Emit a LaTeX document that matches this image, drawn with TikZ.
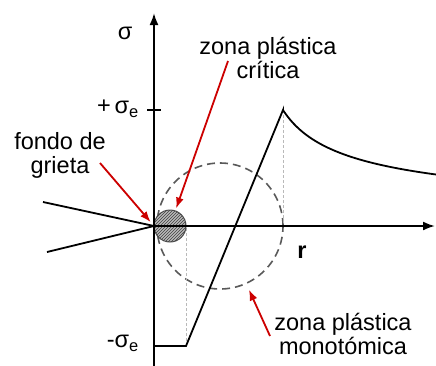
\documentclass[tikz,border=0pt]{standalone}
\usepackage{fontspec}
\setmainfont{Liberation Sans}
\usetikzlibrary{arrows.meta, patterns}

\begin{document}
\begin{tikzpicture}[x=1pt, y=-1pt,
    axis/.style={-{Latex[length=12pt, width=9pt]}, line width=2pt},
    curve/.style={line width=1.8pt},
    guide/.style={dash pattern=on 3pt off 2pt, gray!55, line width=0.9pt},
    zone/.style={circle, draw=gray!70!black, dash pattern=on 8pt off 5pt, line width=1.6pt, minimum size=126pt, inner sep=0pt},
    hatched/.style={circle, draw=black!70, fill=gray!55, postaction={pattern=north east lines, pattern color=black!75}, minimum size=32pt, inner sep=0pt, line width=1pt},
    pointer/.style={-{Latex[length=11pt, width=8pt]}, red!80!black, line width=1.8pt},
    txt/.style={font=\fontsize{23.5}{24}\selectfont, align=center, inner sep=0pt}
]
\useasboundingbox (0,0) rectangle (436,365);

% key points
\coordinate (tip) at (154,226);
\coordinate (ytop) at (154,13);
\coordinate (ybot) at (154,366);
\coordinate (xend) at (435,226);
\coordinate (peak) at (283,110);
\coordinate (low) at (186,346);
\coordinate (crackA) at (43,202);
\coordinate (crackB) at (47,252);

% plastic zones
\node[zone] (monozone) at (220,226) {};
\draw[guide] (peak) -- (peak |- tip);
\draw[guide] (low) -- (low |- tip);
\node[hatched] (critzone) at (170,226) {};

% axes and crack
\draw[axis] (ybot) -- (ytop);
\draw[axis] (tip) -- (xend);
\draw[line width=1.8pt] ([xshift=-7pt]tip |- peak) -- ([xshift=7pt]tip |- peak);
\draw[curve] (crackA) -- (tip) -- (crackB);

% stress distribution
\draw[curve] (tip |- low) -- (low) -- (peak)
    -- plot[domain=283:436, samples=60] (\x, {226-711/sqrt(\x-245.4)});

% labels
\node[txt] (sigma) at (125,33) {σ};
\node[txt, anchor=east] (plus) at (139,109) {+\,σ\textsubscript{e}};
\node[txt, anchor=east] (minus) at (139,343) {-σ\textsubscript{e}};
\node[txt, font=\fontsize{23.5}{24}\selectfont\bfseries] (rlabel) at (302,252) {r};
\node[txt] (fondo) at (60,155) {fondo de\\grieta};
\node[txt] (critica) at (268,58) {zona plástica\\crítica};
\node[txt] (monot) at (343,334) {zona plástica\\monotómica};

% pointers
\coordinate (fondoPt) at (100,163);
\coordinate (critPt) at (228,61);
\coordinate (monoPt) at (270,336);
\draw[pointer, shorten >=5pt] (fondoPt) -- (tip);
\draw[pointer, shorten >=2pt] (critPt) -- (critzone);
\draw[pointer, shorten >=6pt] (monoPt) -- (monozone);
\end{tikzpicture}
\end{document}
